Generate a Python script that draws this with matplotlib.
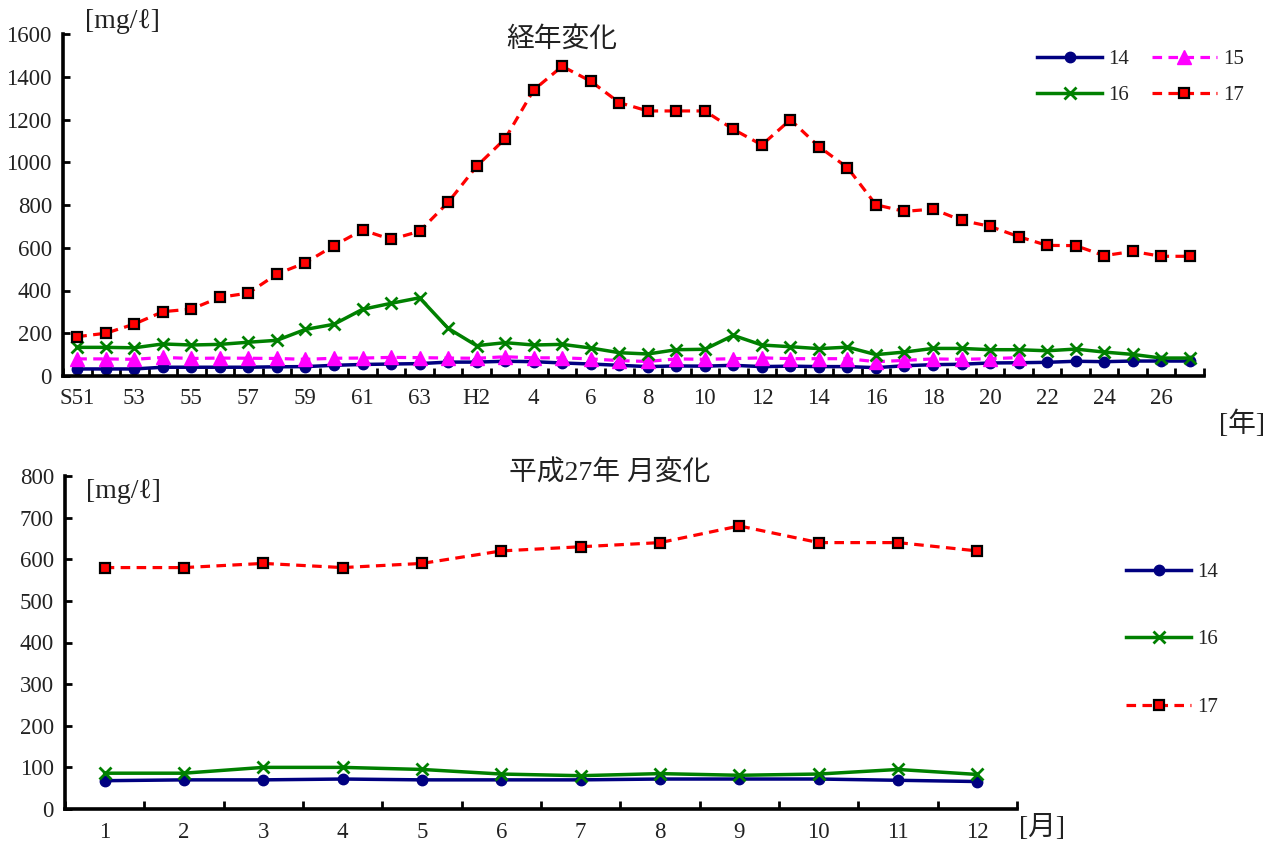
import matplotlib
matplotlib.use("Agg")
import matplotlib.pyplot as plt
from matplotlib.ticker import FixedLocator, NullFormatter

FONT = ["Liberation Serif", "DejaVu Serif", "Noto Sans CJK JP"]
plt.rcParams["font.family"] = FONT

# ---- yearly data (Showa 51 .. Heisei 27) ----
years = (["S51"] + [str(y) for y in range(52, 64)] + ["H1"] +
         [str(y) for y in range(2, 28)])
year_ticklabels = ["S51", "53", "55", "57", "59", "61", "63", "H2", "4", "6",
                   "8", "10", "12", "14", "16", "18", "20", "22", "24", "26"]

s14 = [33, 33, 33, 41, 41, 41, 41, 43, 44, 50, 54, 56, 58, 65, 65, 69, 67, 61,
       56, 50, 44, 47, 46, 50, 44, 46, 44, 44, 39, 48, 53, 55, 61, 62, 64, 69,
       67, 70, 70, 70]
s15 = [80, 80, 78, 87, 82, 84, 83, 82, 78, 83, 84, 87, 86, 84, 83, 90, 85, 85,
       80, 72, 68, 80, 78, 81, 85, 81, 81, 81, 67, 73, 80, 78, 81, 86]
s16 = [134, 134, 132, 150, 145, 148, 158, 167, 218, 242, 312, 340, 366, 223,
       142, 156, 145, 148, 131, 109, 103, 123, 125, 190, 145, 137, 128, 135,
       100, 112, 129, 129, 123, 123, 118, 126, 112, 101, 84, 84]
s17 = [184, 200, 243, 301, 313, 368, 388, 477, 530, 610, 683, 639, 677, 812,
       981, 1110, 1338, 1449, 1379, 1279, 1240, 1240, 1240, 1154, 1081, 1199,
       1073, 975, 801, 770, 781, 728, 700, 652, 611, 610, 563, 583, 560, 560]

# ---- monthly data (Heisei 27) ----
months = [str(m) for m in range(1, 13)]
m14 = [68, 70, 70, 72, 70, 70, 70, 72, 72, 72, 69, 66]
m16 = [86, 86, 100, 100, 95, 84, 80, 85, 81, 84, 95, 83]
m17 = [580, 580, 590, 580, 590, 620, 630, 640, 680, 640, 640, 620]

STY = {
    "14": dict(color="#000080", ls="-", marker="o", ms=7.5, mfc="#000080",
               mec="#000080", lw=2.5),
    "15": dict(color="#FF00FF", ls=(0, (3, 2)), marker="^", ms=9.5,
               mfc="#FF00FF", mec="#FF00FF", lw=2.3),
    "16": dict(color="#008000", ls="-", marker="x", ms=9, mew=2,
               mec="#008000", lw=2.5),
    "17": dict(color="#FF0000", ls=(0, (3, 2)), marker="s", ms=7.5,
               mfc="#FF0000", mec="black", mew=1.6, lw=2.3),
}

TICK_FS = 16.5
LEG_FS = 15

fig = plt.figure(figsize=(12.74, 8.43), dpi=100)


def style_axes(ax, n, ymax, ystep):
    for s in ("top", "right"):
        ax.spines[s].set_visible(False)
    for s in ("left", "bottom"):
        ax.spines[s].set_linewidth(2.6)
        ax.spines[s].set_color("black")
    ax.set_xlim(-0.5, n - 0.5)
    ax.set_ylim(0, ymax)
    ax.set_yticks(range(0, ymax + 1, ystep))
    ax.tick_params(axis="y", direction="in", length=5, width=2,
                   labelsize=TICK_FS, pad=8, labelcolor="#222222")
    ax.xaxis.set_minor_locator(FixedLocator([i - 0.5 for i in range(n + 1)]))
    ax.xaxis.set_minor_formatter(NullFormatter())
    ax.tick_params(axis="x", which="minor", direction="in", length=6, width=2)
    ax.tick_params(axis="x", which="major", length=0, labelsize=TICK_FS,
                   pad=9, labelcolor="#222222")


# ---- top: yearly change ----
ax1 = fig.add_axes([63 / 1274, 1 - 376 / 843, (1204 - 63) / 1274,
                    (376 - 34) / 843])
x = list(range(len(years)))
h14, = ax1.plot(x, s14, label="14", **STY["14"])
h15, = ax1.plot(x[:len(s15)], s15, label="15", **STY["15"])
h16, = ax1.plot(x, s16, label="16", **STY["16"])
h17, = ax1.plot(x, s17, label="17", **STY["17"])
style_axes(ax1, len(years), 1600, 200)
ax1.set_xticks(x[::2])
ax1.set_xticklabels(year_ticklabels)
# two columns, filled column-wise: rows read 14 15 / 16 17
ax1.legend([h14, h16, h15, h17], ["14", "16", "15", "17"],
           loc="upper left", bbox_to_anchor=(1027 / 1274, 1 - 39 / 843),
           bbox_transform=fig.transFigure, ncol=2, frameon=False,
           fontsize=LEG_FS, handlelength=3.1, labelspacing=0.78,
           columnspacing=1.1, handletextpad=0.3, borderpad=0,
           labelcolor="#222222")

fig.text(562 / 1274, 1 - 40 / 843, "経年変化", ha="center", va="center",
         fontsize=20, family=FONT, color="#222222")
fig.text(122 / 1274, 1 - 22 / 843, "[mg/ℓ]", ha="center", va="center",
         fontsize=20, family=FONT, color="#222222")
fig.text(1242 / 1274, 1 - 424 / 843, "[年]", ha="center", va="center",
         fontsize=20, family=FONT, color="#222222")

# ---- bottom: monthly change ----
ax2 = fig.add_axes([65 / 1274, 1 - 809 / 843, (1017 - 65) / 1274,
                    (809 - 476) / 843])
xm = list(range(len(months)))
ax2.plot(xm, m14, label="14", **STY["14"])
ax2.plot(xm, m16, label="16", **STY["16"])
ax2.plot(xm, m17, label="17", **STY["17"])
style_axes(ax2, len(months), 800, 100)
ax2.set_xticks(xm)
ax2.set_xticklabels(months)
ax2.legend(loc="upper left", bbox_to_anchor=(1116 / 1274, 1 - 552 / 843),
           bbox_transform=fig.transFigure, frameon=False, fontsize=LEG_FS,
           handlelength=3.1, labelspacing=2.3, handletextpad=0.3,
           borderpad=0, labelcolor="#222222")

fig.text(610 / 1274, 1 - 474 / 843, "平成27年 月変化", ha="center",
         va="center", fontsize=20, family=FONT, color="#222222")
fig.text(123 / 1274, 1 - 492 / 843, "[mg/ℓ]", ha="center", va="center",
         fontsize=20, family=FONT, color="#222222")
fig.text(1042 / 1274, 1 - 828 / 843, "[月]", ha="center", va="center",
         fontsize=20, family=FONT, color="#222222")

fig.savefig("out.png", dpi=100)
